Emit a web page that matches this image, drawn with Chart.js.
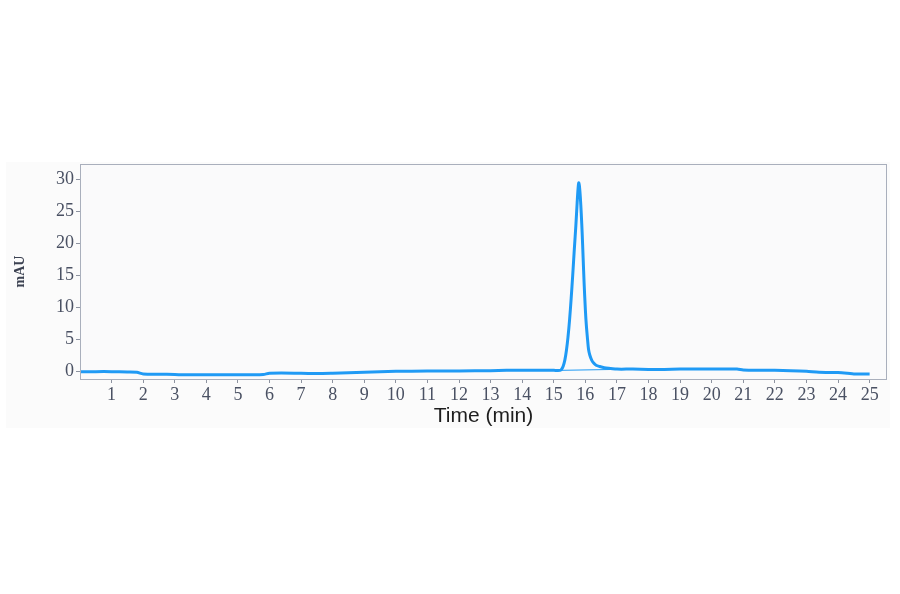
<!DOCTYPE html>
<html>
<head>
<meta charset="utf-8">
<script src="https://cdn.jsdelivr.net/npm/chart.js@4.4.1/dist/chart.umd.min.js"></script>
<style>
  html, body { margin: 0; padding: 0; background: #fff; }
  #wrap { width: 900px; height: 594px; }
</style>
</head>
<body>
<div id="wrap"><canvas id="chromatogram"></canvas></div>
<script>
// retention time (min) and signal (mAU)
const timeMin = [
  0, 0.5, 1.0, 1.5, 1.8, 2.0, 2.5, 3.0, 3.3, 4.0, 5.0, 5.8, 6.0, 7.0, 7.5, 8.0,
  9.0, 9.5, 10.0, 11.0, 12.0, 13.0, 13.5, 14.0, 14.5, 15.0,
  15.2, 15.25, 15.3, 15.35, 15.4, 15.45, 15.5, 15.55, 15.6, 15.65, 15.7, 15.74,
  15.77, 15.79, 15.81, 15.84, 15.87, 15.9, 15.93, 15.96, 16.0, 16.03, 16.07,
  16.1, 16.14, 16.2, 16.27, 16.34, 16.45, 16.6, 16.8, 17.0,
  17.5, 18.0, 18.5, 19.0, 20.0, 20.8, 21.0, 21.5, 22.0, 22.5, 23.0, 23.4,
  24.0, 24.3, 24.5, 25.0
];
const signalMAU = [
  -0.1, -0.1, -0.1, -0.15, -0.2, -0.45, -0.5, -0.55, -0.6, -0.6, -0.6, -0.55, -0.35, -0.35, -0.4, -0.35,
  -0.2, -0.1, -0.05, 0, 0, 0.05, 0.1, 0.1, 0.1, 0.1,
  0.1, 0.3, 0.8, 1.7, 3.2, 5.3, 8.0, 11.3, 15.0, 19.0, 22.8, 26.3,
  28.6, 29.4, 29.0, 27.2, 24.6, 21.4, 17.6, 13.8, 9.6, 7.2, 4.9,
  3.4, 2.5, 1.7, 1.2, 0.9, 0.7, 0.5, 0.4, 0.3,
  0.3, 0.25, 0.25, 0.3, 0.3, 0.3, 0.15, 0.1, 0.1, 0.05, -0.05, -0.2,
  -0.25, -0.35, -0.45, -0.45
];
// integration baseline under the peak
const baseTime = [15.15, 17.0];
const baseSignal = [0.1, 0.25];

const xTicks = [1, 2, 3, 4, 5, 6, 7, 8, 9, 10, 11, 12, 13, 14, 15, 16, 17, 18, 19, 20, 21, 22, 23, 24, 25];
const yTicks = [0, 5, 10, 15, 20, 25, 30];

const toPoints = (xs, ys) => xs.map((x, i) => ({ x: x, y: ys[i] }));

const frame = {
  id: "frame",
  beforeDraw(chart) {
    const c = chart.ctx;
    const a = chart.chartArea;
    c.save();
    c.fillStyle = "#fbfbfb";
    c.fillRect(6, 162, 884, 266);
    c.fillStyle = "#fafafb";
    c.fillRect(a.left, a.top, a.right - a.left, a.bottom - a.top);
    c.restore();
  },
  afterDatasetsDraw(chart) {
    const c = chart.ctx;
    const a = chart.chartArea;
    c.save();
    c.strokeStyle = "#a9afbc";
    c.lineWidth = 1;
    c.strokeRect(a.left + 0.5, a.top + 0.5, a.right - a.left - 1, a.bottom - a.top);
    c.restore();
  }
};

const tickFont = { family: "'Liberation Serif', serif", size: 18 };

new Chart(document.getElementById("chromatogram").getContext("2d"), {
  type: "line",
  data: {
    datasets: [
      {
        label: "signal",
        data: toPoints(timeMin, signalMAU),
        borderColor: "#1f9af5",
        borderWidth: 3,
        pointRadius: 0,
        tension: 0.3,
        fill: false
      },
      {
        label: "baseline",
        data: toPoints(baseTime, baseSignal),
        borderColor: "#1f9af5",
        borderWidth: 1,
        pointRadius: 0,
        fill: false
      }
    ]
  },
  options: {
    responsive: true,
    maintainAspectRatio: false,
    animation: false,
    layout: { padding: { top: 164, left: 0, right: 13, bottom: 155 } },
    plugins: {
      legend: { display: false },
      tooltip: { enabled: false }
    },
    scales: {
      x: {
        type: "linear",
        min: 0,
        max: 25.55,
        afterBuildTicks(scale) {
          scale.ticks = xTicks.map(v => ({ value: v }));
        },
        afterFit(scale) { scale.height = 60; },
        border: { display: false },
        grid: { drawOnChartArea: false, drawTicks: true, tickLength: 4, color: "#8d93a0" },
        ticks: { font: tickFont, color: "#4a5163", padding: 1, maxRotation: 0, autoSkip: false },
        title: {
          display: true,
          text: "Time (min)",
          font: { family: "'Liberation Sans', Arial, sans-serif", size: 21 },
          color: "#1e1e1e",
          padding: { top: 0, bottom: 10 }
        }
      },
      y: {
        min: -1.25,
        max: 32.35,
        afterBuildTicks(scale) {
          scale.ticks = yTicks.map(v => ({ value: v }));
        },
        afterFit(scale) { scale.width = 80; },
        border: { display: false },
        grid: { drawOnChartArea: false, drawTicks: true, tickLength: 4, color: "#8d93a0" },
        ticks: { font: tickFont, color: "#4a5163", padding: 2 },
        title: {
          display: true,
          text: "mAU",
          font: { family: "'Liberation Serif', serif", size: 14, weight: "bold" },
          color: "#3c4252",
          padding: { top: 12, bottom: 0 }
        }
      }
    }
  },
  plugins: [frame]
});
</script>
</body>
</html>
